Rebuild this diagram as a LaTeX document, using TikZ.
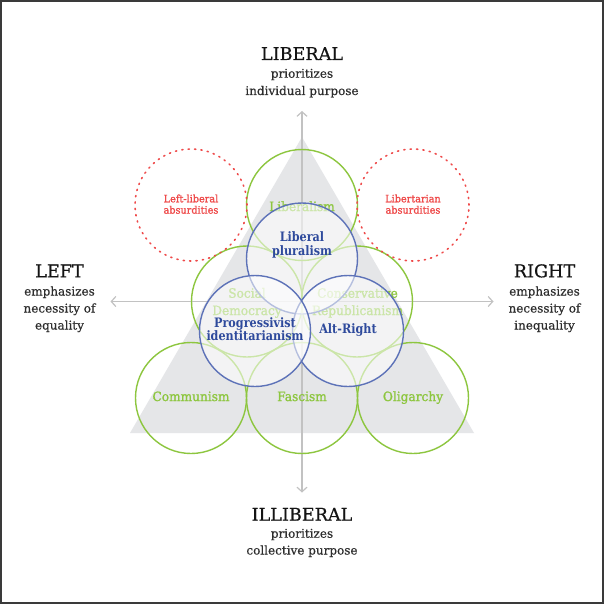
\documentclass[tikz,border=0pt]{standalone}
\usepackage{fontspec}
\setmainfont{DejaVu Serif}
\newfontfamily\medserif{DejaVu Serif}[FakeBold=1.3,FakeStretch=0.95]
\newfontfamily\subserif{DejaVu Serif}[FakeBold=0.5]
\newfontfamily\blueserif{DejaVu Serif Bold}[FakeStretch=0.86]
\usetikzlibrary{arrows.meta}
\definecolor{trigray}{HTML}{E5E6E8}
\definecolor{axisgray}{HTML}{C2C2C2}
\definecolor{polgreen}{HTML}{8DC63F}
\definecolor{polblue}{HTML}{5D72B8}
\definecolor{bluetext}{HTML}{2E4A9C}
\definecolor{polred}{HTML}{EF4A4A}
\definecolor{frame}{HTML}{3A3A3A}
\begin{document}
\begin{tikzpicture}[x=1pt,y=-1pt,
  greenring/.style={circle, minimum size=111pt, inner sep=0pt, draw=polgreen, line width=1.4pt},
  bluering/.style={circle, minimum size=111pt, inner sep=0pt, draw=polblue, fill=white, fill opacity=0.55, draw opacity=1, line width=1.4pt},
  redring/.style={circle, minimum size=112pt, inner sep=0pt, draw=polred, line width=1.6pt, line cap=round, dash pattern=on 1.2pt off 5.2pt},
  axisline/.style={draw=axisgray, line width=1.2pt, {Straight Barb[length=4.5pt,width=10pt]}-{Straight Barb[length=4.5pt,width=10pt]}},
  titletext/.style={anchor=base, inner sep=0pt, font=\subserif\fontsize{17.6}{17.6}\selectfont, text=black!92},
  subtext/.style={anchor=base, inner sep=0pt, font=\subserif\fontsize{12}{12}\selectfont, text=black!82},
  greentext/.style={anchor=base, inner sep=0pt, font=\medserif\fontsize{12.8}{12.8}\selectfont, text=polgreen},
  bluetxt/.style={anchor=base, inner sep=0pt, font=\blueserif\fontsize{13}{13}\selectfont, text=bluetext},
  redtext/.style={anchor=base, inner sep=0pt, font=\medserif\fontsize{10.2}{10.2}\selectfont, text=polred}]
\useasboundingbox (0,0) rectangle (604,604);
\fill[white] (0,0) rectangle (604,604);
\draw[frame, line width=2pt] (1,1) rectangle (603,603);

% triangle
\fill[trigray] (302,137) -- (130,433) -- (474,433) -- cycle;

% axes
\coordinate (axtop) at (302,111);
\coordinate (axbot) at (302,492.5);
\coordinate (axleft) at (110.5,301.5);
\coordinate (axright) at (493.5,301.5);
\draw[axisline] (axtop) -- (axbot);
\draw[axisline] (axleft) -- (axright);

% green circles
\node[greenring] (liberalism) at (302,205) {};
\node[greenring] (socdem) at (247,301.5) {};
\node[greenring] (conserv) at (357,301.5) {};
\node[greenring] (communism) at (191,398) {};
\node[greenring] (fascism) at (302,398) {};
\node[greenring] (oligarchy) at (413,398) {};

% green labels
\node[greentext] (tLiberalism) at (302,211) {Liberalism};
\node[greentext] (tSocial) at (247,297.7) {Social};
\node[greentext] (tDemocracy) at (247,315) {Democracy};
\node[greentext] (tConservative) at (357.5,297.7) {Conservative};
\node[greentext] (tRepublicanism) at (357.5,315) {Republicanism};
\node[greentext] (tCommunism) at (191,401) {Communism};
\node[greentext] (tFascism) at (302,401) {Fascism};
\node[greentext] (tOligarchy) at (413,401) {Oligarchy};

% blue circles
\node[bluering] (libplural) at (302,258.5) {};
\node[bluering] (altright) at (348,331) {};
\node[bluering] (progid) at (255,331) {};

% blue labels
\node[bluetxt] (tLiberal) at (302,241.7) {Liberal};
\node[bluetxt] (tPluralism) at (302,255) {pluralism};
\node[bluetxt] (tProgressivist) at (255,327.3) {Progressivist};
\node[bluetxt] (tIdentitarianism) at (255,340) {identitarianism};
\node[bluetxt] (tAltRight) at (348,333.3) {Alt-Right};

% red dashed circles
\node[redring] (leftabs) at (191,205) {};
\node[redring] (libabs) at (413,205) {};
\node[redtext] (tLeftLiberal) at (191,202.3) {Left-liberal};
\node[redtext] (tAbs1) at (191,213.6) {absurdities};
\node[redtext] (tLibertarian) at (413,202.3) {Libertarian};
\node[redtext] (tAbs2) at (413,213.6) {absurdities};

% axis titles
\node[titletext] (tLIBERAL) at (302,60) {LIBERAL};
\node[subtext] (tLib1) at (302,77.7) {prioritizes};
\node[subtext] (tLib2) at (302,95) {individual purpose};

\node[titletext] (tILLIBERAL) at (302,520.7) {ILLIBERAL};
\node[subtext] (tIll1) at (302,537.7) {prioritizes};
\node[subtext] (tIll2) at (302,554.5) {collective purpose};

\node[titletext] (tLEFT) at (59.5,277.3) {LEFT};
\node[subtext] (tLeft1) at (59.5,295.5) {emphasizes};
\node[subtext] (tLeft2) at (59.5,312.5) {necessity of};
\node[subtext] (tLeft3) at (59.5,329.5) {equality};

\node[titletext] (tRIGHT) at (544.5,277.3) {RIGHT};
\node[subtext] (tRight1) at (544.5,295.5) {emphasizes};
\node[subtext] (tRight2) at (544.5,312.5) {necessity of};
\node[subtext] (tRight3) at (544.5,329.5) {inequality};
\end{tikzpicture}
\end{document}
